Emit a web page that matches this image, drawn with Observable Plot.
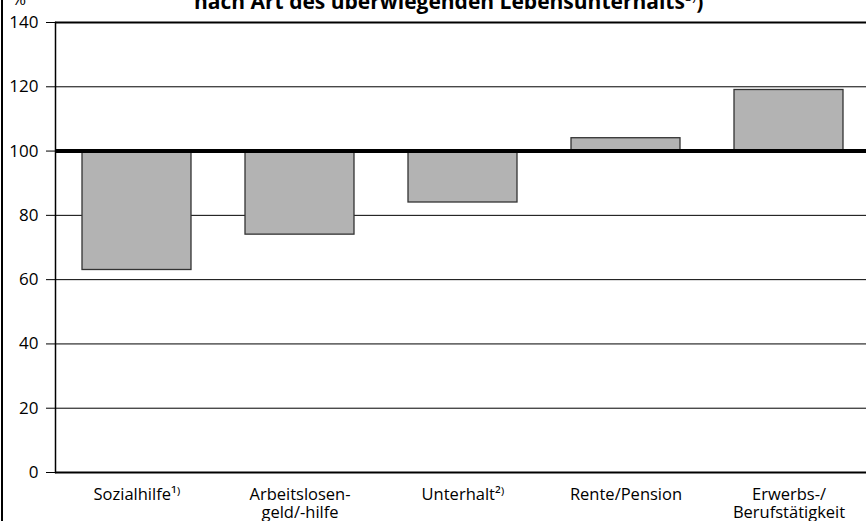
<!DOCTYPE html>
<html><head><meta charset="utf-8">
<script src="https://cdn.jsdelivr.net/npm/d3@7"></script>
<script src="https://cdn.jsdelivr.net/npm/@observablehq/plot@0.6"></script>
<style>
body{margin:0;background:#fff;font-family:"Open Sans",sans-serif;}
#wrap{position:relative;width:866px;height:521px;overflow:hidden;background:#fff;}
#title{position:absolute;left:194px;top:-13px;font-weight:bold;font-size:21px;white-space:nowrap;color:#000;}
#title sup{font-size:13px;font-weight:normal;}
#unit{position:absolute;left:12px;top:-13px;font-size:17px;color:#000;}
#border{position:absolute;left:1px;top:0;width:2px;height:521px;background:#000;}
#chart{position:absolute;left:0;top:0;}
</style>
</head><body>
<div id="wrap">
  <div id="chart"></div>
  <div id="title">nach Art des überwiegenden Lebensunterhalts<sup>3)</sup>)</div>
  <div id="unit">%</div>
  <div id="border"></div>
</div>
<script>
const categories = ["Sozialhilfe¹⁾", "Arbeitslosen-\ngeld/-hilfe", "Unterhalt²⁾", "Rente/Pension", "Erwerbs-/\nBerufstätigkeit"];
const values = [63, 74, 84, 104, 119];
const baseline = 100;
const yTicks = [0, 20, 40, 60, 80, 100, 120, 140];
const gridTicks = [20, 40, 60, 80, 120];

const data = categories.map((c, i) => ({cat: c, value: values[i]}));

const chart = Plot.plot({
  width: 866,
  height: 521,
  marginTop: 22,
  marginBottom: 49,
  marginLeft: 55,
  marginRight: -4,
  style: {fontFamily: "Open Sans, sans-serif", color: "#000", background: "transparent", overflow: "hidden"},
  x: {domain: categories, paddingInner: 0.33, paddingOuter: 0.165, label: null},
  y: {domain: [0, 140], label: null},
  marks: [
    Plot.ruleY(gridTicks, {stroke: "#000", strokeWidth: 1}),
    Plot.ruleY([140], {stroke: "#000", strokeWidth: 2}),
    Plot.barY(data, {x: "cat", y1: baseline, y2: "value", fill: "#b3b3b3", stroke: "#333", strokeWidth: 1.3}),
    Plot.ruleY([baseline], {stroke: "#000", strokeWidth: 4}),
    Plot.ruleY([0], {stroke: "#000", strokeWidth: 2}),
    Plot.frame({anchor: "left", stroke: "#000", strokeWidth: 1.5}),
    Plot.axisY({ticks: yTicks, tickSize: 9, tickPadding: 8, fontSize: 17, label: null, stroke: "#000"}),
    Plot.axisX({tickSize: 0, tickPadding: 15, fontSize: 16.5, lineHeight: 1.08, label: null})
  ]
});
document.getElementById("chart").appendChild(chart);
</script>
</body></html>
